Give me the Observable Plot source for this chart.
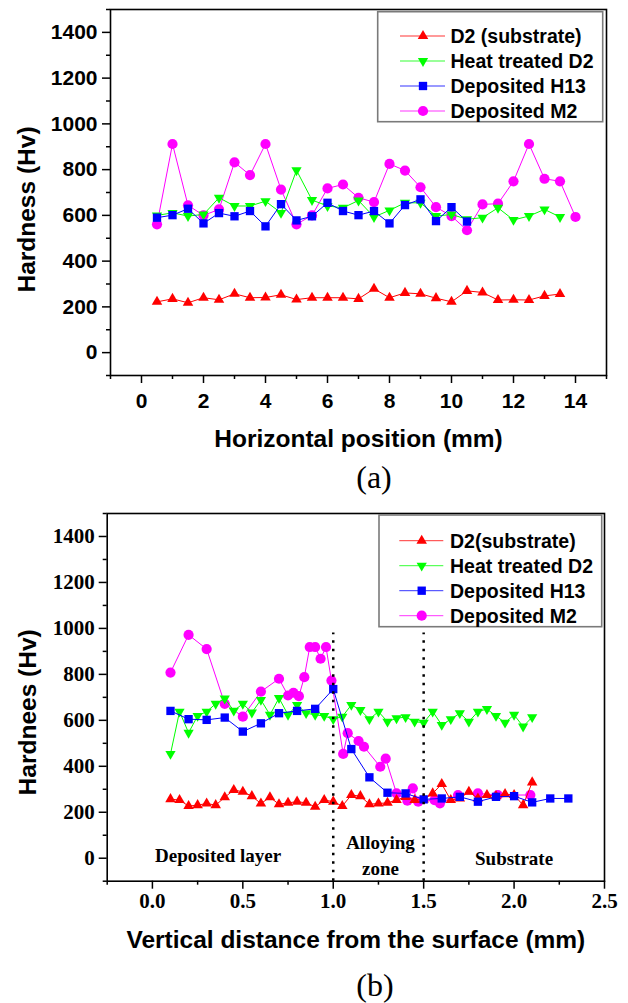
<!DOCTYPE html>
<html><head><meta charset="utf-8">
<script src="https://cdn.jsdelivr.net/npm/d3@7"></script>
<script src="https://cdn.jsdelivr.net/npm/@observablehq/plot@0.6"></script>
<style>
body{margin:0;background:#fff;}
#wrap{position:relative;width:628px;height:1003px;overflow:hidden;background:#fff;}
.cap{position:absolute;font-family:"Liberation Serif","Times New Roman",serif;font-size:32px;line-height:32px;height:32px;width:100px;text-align:center;color:#000;}
</style></head><body><div id="wrap"></div>
<script>
// ---------- data: chart (a) ----------
const posA = [0.5,1,1.5,2,2.5,3,3.5,4,4.5,5,5.5,6,6.5,7,7.5,8,8.5,9,9.5,10,10.5,11,11.5,12,12.5,13,13.5,14];
const d2A   = [222,235,218,240,231,257,240,241,253,232,240,240,240,235,279,240,261,257,238,222,270,263,230,231,230,248,256];
const heatA = [600,611,597,604,677,641,641,662,611,797,667,641,633,665,593,622,655,655,597,604,583,590,633,580,597,626,593];
const h13A  = [590,601,629,565,610,596,619,552,649,578,596,655,619,601,619,565,645,670,575,636,573];
const m2A   = [561,912,644,600,626,832,776,912,713,561,600,718,735,677,658,825,796,723,636,597,535,648,651,749,912,760,749,593];

// ---------- data: chart (b) ----------
const posB05 = [0.1,0.15,0.2,0.25,0.3,0.35,0.4,0.45,0.5,0.55,0.6,0.65,0.7,0.75,0.8,0.85,0.9,0.95,1.0,1.05,1.1,1.15,1.2,1.25,1.3,1.35,1.4,1.45,1.5,1.55,1.6,1.65,1.7,1.75,1.8,1.85,1.9,1.95,2.0,2.05,2.1];
const d2B   = [257,253,227,231,238,231,265,297,289,270,238,265,235,241,246,241,224,253,246,227,275,270,235,238,241,253,267,253,256,282,323,253,260,289,260,275,270,279,275,231,330];
const heatB = [454,638,546,619,638,672,695,642,672,634,689,624,697,624,667,631,624,619,605,616,667,645,605,638,594,609,614,594,590,638,580,605,631,594,638,649,619,590,624,573,614];
const posB10 = [0.1,0.2,0.3,0.4,0.5,0.6,0.7,0.8,0.9,1.0,1.1,1.2,1.3,1.4,1.5,1.6,1.7,1.8,1.9,2.0,2.1,2.2,2.3];
const h13B  = [641,605,602,612,551,587,631,641,650,736,475,352,285,282,256,260,267,246,267,270,243,260,260];
const m2Bx  = [0.1,0.2,0.3,0.4,0.5,0.6,0.7,0.75,0.78,0.81,0.84,0.87,0.9,0.93,0.96,0.99,1.055,1.08,1.14,1.17,1.26,1.29,1.35,1.41,1.44,1.47,1.56,1.59,1.69,1.8,1.91,2.09];
const m2B   = [808,972,910,672,616,725,781,708,720,705,788,919,919,868,919,773,454,544,510,485,398,433,282,250,304,246,253,239,275,282,275,275];

// ---------- labels / ticks ----------
const namesA = ["D2 (substrate)","Heat treated D2","Deposited H13","Deposited M2"];
const namesB = ["D2(substrate)","Heat treated D2","Deposited H13","Deposited M2"];
const yTicks = [0,200,400,600,800,1000,1200,1400];
const yMinor = [-100,100,300,500,700,900,1100,1300,1500];
const xTicksA = [0,2,4,6,8,10,12,14];
const xMinorA = [-1,1,3,5,7,9,11,13,15];
const xTicksB = [0,0.5,1.0,1.5,2.0,2.5];
const xMinorB = [-0.25,0.25,0.75,1.25,1.75,2.25];
const boundaries = [1.0,1.5];
const regionLabels = [
  {label:"Deposited layer", x:0.363, y:18},
  {label:"Alloying\nzone", x:1.261, y:21},
  {label:"Substrate", x:2.0, y:8}
];
const titleXA = "Horizontal position (mm)", titleYA = "Hardness (Hv)";
const titleXB = "Vertical distance from the surface (mm)", titleYB = "Hardnees (Hv)";

// ---------- styles ----------
const sans = "'Liberation Sans', Arial, sans-serif";
const serif = "'Liberation Serif', 'Times New Roman', serif";
const colors = ["#ff0000","#00ff00","#0000ff","#ff00ff"];
const triangleDown = {draw(ctx, size){const y=-Math.sqrt(size/(Math.sqrt(3)*3)); ctx.moveTo(0,-y*2); ctx.lineTo(-Math.sqrt(3)*y,y); ctx.lineTo(Math.sqrt(3)*y,y); ctx.closePath();}};
const symbols = [d3.symbolTriangle, triangleDown, d3.symbolSquare, d3.symbolCircle];
const radii = [3.9, 3.8, 4.7, 5.1];
const drawOrder = [3,0,1,2];

function table(xs, ys){ return ys.map((v,i)=>({x:xs[i], y:v})); }
const seriesA = [table(posA,d2A), table(posA,heatA), table(posA,h13A), table(posA,m2A)];
const seriesB = [table(posB05,d2B), table(posB05,heatB), table(posB10,h13B), table(m2Bx,m2B)];

function seriesMarks(series){
  const m = [];
  for (const i of drawOrder){
    m.push(Plot.line(series[i], {x:"x", y:"y", stroke:colors[i], strokeWidth:1}));
    m.push(Plot.dot(series[i], {x:"x", y:"y", symbol:symbols[i], r:radii[i], fill:colors[i]}));
  }
  return m;
}

const wrap = document.getElementById("wrap");

// ---------- chart (a) ----------
const chartA = Plot.plot({
  width:628, height:480, marginLeft:110, marginRight:22, marginTop:9, marginBottom:105,
  x:{domain:[-1,15]}, y:{domain:[-100,1500]},
  style:{color:"black", background:"transparent", overflow:"visible"},
  marks:[
    ...seriesMarks(seriesA),
    Plot.frame({strokeWidth:1.6}),
    Plot.axisY({ticks:yTicks, tickSize:8, tickPadding:5, strokeWidth:1.5, fontSize:21, fontWeight:"bold", fontFamily:sans, tickFormat:d=>String(d), label:null}),
    Plot.axisY({ticks:yMinor, tickSize:4, strokeWidth:1.5, tickFormat:()=>"", label:null}),
    Plot.axisX({ticks:xTicksA, tickSize:8, tickPadding:10, strokeWidth:1.5, fontSize:21, fontWeight:"bold", fontFamily:sans, tickFormat:d=>String(d), label:null}),
    Plot.axisX({ticks:xMinorA, tickSize:4, strokeWidth:1.5, tickFormat:()=>"", label:null}),
    Plot.text([titleXA], {frameAnchor:"bottom", dy:64, lineAnchor:"middle", textAnchor:"middle", text:d=>d, fontSize:24.5, fontWeight:"bold", fontFamily:sans}),
    Plot.text([titleYA], {frameAnchor:"left", dx:-83, dy:17, rotate:-90, lineAnchor:"middle", textAnchor:"middle", text:d=>d, fontSize:24.5, fontWeight:"bold", fontFamily:sans})
  ]
});
chartA.style.position="absolute"; chartA.style.left="0px"; chartA.style.top="0px";
wrap.appendChild(chartA);

// ---------- chart (b) ----------
const chartB = Plot.plot({
  width:628, height:470, marginLeft:106.7, marginRight:24, marginTop:13, marginBottom:89.3,
  x:{domain:[-0.25,2.5]}, y:{domain:[-100,1500]},
  style:{color:"black", background:"transparent", overflow:"visible"},
  marks:[
    ...seriesMarks(seriesB),
    Plot.ruleX(boundaries, {y1:-100, y2:980, stroke:"black", strokeWidth:2.5, strokeDasharray:"2.5,6"}),
    Plot.text(regionLabels, {x:"x", y:"y", text:"label", lineAnchor:"middle", textAnchor:"middle", lineHeight:1.37, fontSize:19, fontWeight:"bold", fontFamily:serif}),
    Plot.frame({strokeWidth:1.6}),
    Plot.axisY({ticks:yTicks, tickSize:8, tickPadding:4.5, strokeWidth:1.5, fontSize:21, fontWeight:"bold", fontFamily:serif, tickFormat:d=>String(d), label:null}),
    Plot.axisY({ticks:yMinor, tickSize:4, strokeWidth:1.5, tickFormat:()=>"", label:null}),
    Plot.axisX({ticks:xTicksB, tickSize:8, tickPadding:3.5, strokeWidth:1.5, fontSize:21, fontWeight:"bold", fontFamily:serif, tickFormat:d3.format(".1f"), label:null}),
    Plot.axisX({ticks:xMinorB, tickSize:4, strokeWidth:1.5, tickFormat:()=>"", label:null}),
    Plot.text([titleXB], {frameAnchor:"bottom", dy:59, lineAnchor:"middle", textAnchor:"middle", text:d=>d, fontSize:24.5, fontWeight:"bold", fontFamily:sans}),
    Plot.text([titleYB], {frameAnchor:"left", dx:-78.7, dy:15, rotate:-90, lineAnchor:"middle", textAnchor:"middle", text:d=>d, fontSize:24.5, fontWeight:"bold", fontFamily:sans})
  ]
});
chartB.style.position="absolute"; chartB.style.left="0px"; chartB.style.top="500px";
wrap.appendChild(chartB);

// ---------- legends (overlay) ----------
function legend(top, box, rows, lineX0, lineX1, markX, textX, names){
  const svg = d3.select(wrap).append("svg")
    .attr("width",628).attr("height",140)
    .style("position","absolute").style("left","0px").style("top",top+"px");
  svg.append("rect").attr("x",box[0]).attr("y",box[1]).attr("width",box[2]).attr("height",box[3])
    .attr("fill","white").attr("stroke","#7a7a7a").attr("stroke-width",1.6);
  names.forEach((n,i)=>{
    const y = rows[i];
    svg.append("line").attr("x1",lineX0).attr("x2",lineX1).attr("y1",y).attr("y2",y)
      .attr("stroke",colors[i]).attr("stroke-width",1).attr("stroke-opacity",0.8);
    svg.append("path").attr("transform",`translate(${markX},${y})`)
      .attr("d", d3.symbol().type(symbols[i]).size(Math.PI*radii[i]*radii[i])())
      .attr("fill",colors[i]);
    svg.append("text").attr("x",textX).attr("y",y).attr("dy","0.36em")
      .attr("font-family",sans).attr("font-weight","bold").attr("font-size",19.5)
      .attr("fill","black").text(n);
  });
}
legend(0, [377.7,11.7,225,110], [36,61,86,111], 400, 445, 423, 450.5, namesA);
legend(500, [379,15,222.7,111.7], [40.7,65.7,90.7,115.7], 399.3, 443.3, 421.7, 450, namesB);

// ---------- captions ----------
const capA = document.createElement("div"); capA.className="cap"; capA.textContent="(a)";
capA.style.left="324px"; capA.style.top="461px"; wrap.appendChild(capA);
const capB = document.createElement("div"); capB.className="cap"; capB.textContent="(b)";
capB.style.left="325px"; capB.style.top="969px"; wrap.appendChild(capB);
</script></body></html>
